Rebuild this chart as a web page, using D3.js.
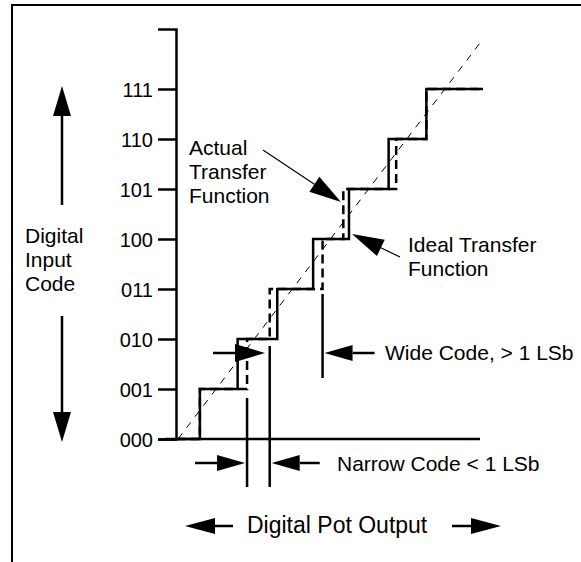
<!DOCTYPE html>
<meta charset="utf-8">
<style>
body { margin: 0; background: #fff; }
text { font-family: "Liberation Sans", Arial, sans-serif; fill: #000; }
.lbl { font-size: 21px; }
.tick text { font-size: 20px; }
</style>
<svg width="581" height="562"></svg>
<script src="https://d3js.org/d3.v7.min.js"></script>
<script>

// codes on the y axis, 0..7
var codes = [0, 1, 2, 3, 4, 5, 6, 7];
var codeLabels = ["000", "001", "010", "011", "100", "101", "110", "111"];

// x position (in LSb) where each code starts
var idealSteps = [0.5, 1.5, 2.55, 3.5, 4.45, 5.5, 6.5];
var actualSteps = [0.5, 1.75, 2.35, 3.75, 4.3, 5.7, 6.5];
var stairEnd = 8;

// narrow code sits between these two, wide code ends at the second
var narrowCode = [1.75, 2.35];
var wideCode = [2.35, 3.75];

var svg = d3.select("svg");

var x = d3.scaleLinear().domain([0, 8]).range([181, 483]);
var y = d3.scaleLinear().domain([0, 8.2]).range([439, 29]);

// frame
svg.append("path")
    .attr("d", "M12,562V5H581")
    .attr("fill", "none")
    .attr("stroke", "#000")
    .attr("stroke-width", 2);

function stairs(steps) {
  var pts = [[x(-0.13), y(0)]];
  steps.forEach(function(s, i) {
    pts.push([x(s), y(i)]);
    pts.push([x(s), y(i + 1)]);
  });
  pts.push([x(stairEnd), y(steps.length)]);
  return d3.line()(pts);
}

// ideal straight line
svg.append("line")
    .attr("x1", x(0) - 3).attr("y1", y(0))
    .attr("x2", x(8)).attr("y2", y(8))
    .attr("stroke", "#000")
    .attr("stroke-width", 1)
    .attr("stroke-dasharray", "7,7");

// actual (dashed) then ideal (solid) staircase
svg.append("path")
    .attr("d", stairs(actualSteps))
    .attr("fill", "none")
    .attr("stroke", "#000")
    .attr("stroke-width", 2.5)
    .attr("stroke-dasharray", "9,5");

svg.append("path")
    .attr("d", stairs(idealSteps))
    .attr("fill", "none")
    .attr("stroke", "#000")
    .attr("stroke-width", 2.5);

// x axis line
svg.append("line")
    .attr("x1", 165).attr("y1", y(0))
    .attr("x2", 480).attr("y2", y(0))
    .attr("stroke", "#000")
    .attr("stroke-width", 2.5);

// y axis
var yAxis = svg.append("g")
    .attr("transform", "translate(176,0)")
    .call(d3.axisLeft(y)
      .tickValues(codes)
      .tickFormat(function(d) { return codeLabels[d]; })
      .tickSizeOuter(0)
      .tickSize(18)
      .tickPadding(5));
yAxis.select(".domain").attr("stroke-width", 2.5);
yAxis.selectAll(".tick line").attr("stroke-width", 2.5);
yAxis.selectAll(".tick text").attr("dy", "0.36em");

function arrow(x1, y1, x2, y2, len, half, w) {
  var dx = x2 - x1, dy = y2 - y1, d = Math.sqrt(dx * dx + dy * dy);
  var ux = dx / d, uy = dy / d;
  var bx = x2 - ux * len, by = y2 - uy * len;
  svg.append("line")
      .attr("x1", x1).attr("y1", y1).attr("x2", bx).attr("y2", by)
      .attr("stroke", "#000").attr("stroke-width", w);
  svg.append("path")
      .attr("d", "M" + x2 + "," + y2 +
        "L" + (bx - uy * half) + "," + (by + ux * half) +
        "L" + (bx + uy * half) + "," + (by - ux * half) + "Z")
      .attr("fill", "#000");
}

// marker lines for narrow / wide code
function marker(v, top, bottom) {
  svg.append("line")
      .attr("x1", x(v)).attr("y1", top)
      .attr("x2", x(v)).attr("y2", bottom)
      .attr("stroke", "#000").attr("stroke-width", 2.5);
}
marker(narrowCode[0], y(1) + 9, 487);
marker(narrowCode[1], y(2) + 7, 487);
marker(wideCode[1], y(3) + 5, 378);

// narrow code arrows
arrow(x(narrowCode[0]) - 52, 463, x(narrowCode[0]) - 2, 463, 28, 8, 2.5);
arrow(x(narrowCode[1]) + 50, 463, x(narrowCode[1]) + 2, 463, 28, 8, 2.5);
arrow(213, 353, 265, 353, 30, 9, 2.5);
// wide code arrow
arrow(x(wideCode[1]) + 52, 353, x(wideCode[1]) + 2, 353, 28, 8, 2.5);

// pointers
arrow(263, 150, 341, 202, 32, 9, 1.2);
arrow(400, 257, 352, 234, 32, 9, 1.2);

// y label arrows
arrow(62, 205, 62, 86, 30, 9, 2.5);
arrow(62, 316, 62, 442, 30, 9, 2.5);

// x label arrows
arrow(233, 526, 185, 526, 30, 8, 2.5);
arrow(452, 526, 501, 526, 30, 8, 2.5);

function lines(arr, tx, ty, lh) {
  arr.forEach(function(s, i) {
    svg.append("text").attr("class", "lbl")
        .attr("x", tx).attr("y", ty + i * lh).text(s);
  });
}
lines(["Digital", "Input", "Code"], 25, 243, 24);
lines(["Actual", "Transfer", "Function"], 189, 155, 24);
lines(["Ideal Transfer", "Function"], 408, 252, 24);
lines(["Wide Code, > 1 LSb"], 385, 360, 24);
lines(["Narrow Code < 1 LSb"], 337, 471, 24);

svg.append("text").attr("class", "lbl")
    .attr("x", 247).attr("y", 533)
    .style("font-size", "23px")
    .text("Digital Pot Output");

</script>
